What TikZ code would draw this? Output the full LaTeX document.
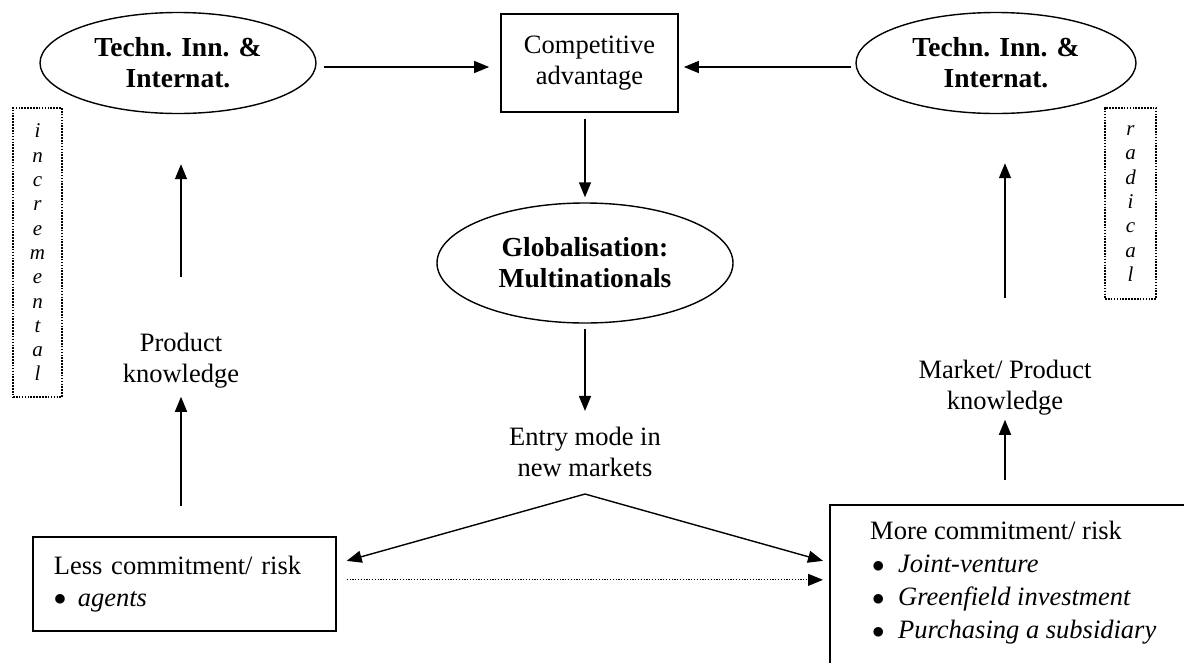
\documentclass[tikz,border=0pt]{standalone}
\usepackage{fontspec}
\setmainfont{Liberation Serif}
\usetikzlibrary{shapes.geometric,arrows.meta}
\newcommand{\bul}{\raisebox{0.5pt}{$\bullet$}}
\begin{document}
\begin{tikzpicture}[x=1pt,y=-1pt,
  every node/.style={font=\fontsize{26.5}{31}\selectfont, inner sep=0pt},
  arr/.style={line width=1.4pt,-{Triangle[length=15pt,width=12pt]}},
  dotarr/.style={line width=1.1pt,dash pattern=on 1.2pt off 1.6pt,-{Triangle[length=15pt,width=12pt]}},
  oval/.style={draw,ellipse,line width=1.4pt,font=\fontsize{27.5}{31}\selectfont\bfseries,align=center},
  box/.style={draw,rectangle,line width=1.7pt},
  vbox/.style={draw,rectangle,line width=1.7pt,dash pattern=on 1.6pt off 1.3pt,font=\fontsize{21}{24.3}\selectfont\itshape,align=center},
  lbl/.style={align=center}]
\useasboundingbox (0,0) rectangle (1184,662);
\clip (0,0) rectangle (1184,662);

% nodes
\node[oval, minimum width=276pt, minimum height=101pt] (techL) at (178,63) {Techn. Inn. \&\\Internat.};
\node[oval, minimum width=280pt, minimum height=101pt] (techR) at (996,63) {Techn. Inn. \&\\Internat.};
\node[box, minimum width=177pt, minimum height=98pt, align=center] (comp) at (589.5,63) {Competitive\\advantage};
\node[oval, minimum width=296pt, minimum height=120pt] (glob) at (585,263) {Globalisation:\\Multinationals};
\node[lbl] (entry) at (585,452) {Entry mode in\\new markets};
\node[lbl] (prod) at (181,361) {Product\\knowledge};
\node[lbl] (mkt) at (1005,388) {Market/ Product\\knowledge};

\node[box, minimum width=303pt, minimum height=94pt, anchor=north west, text width=261pt, align=left,
      font=\fontsize{26.5}{32}\selectfont] (less) at (32,536)
  {Less commitment/ risk\\ \makebox[24pt][l]{\bul}\textit{agents}};

\node[box, minimum width=420pt, minimum height=200pt, anchor=north west] (more) at (829,504) {};
\node[anchor=north west, align=left, font=\fontsize{26.5}{33}\selectfont] (moretext) at (870,521)
  {More commitment/ risk\\
   \hspace*{2pt}\makebox[26pt][l]{\bul}\textit{Joint-venture}\\
   \hspace*{2pt}\makebox[26pt][l]{\bul}\textit{Greenfield investment}\\
   \hspace*{2pt}\makebox[26pt][l]{\bul}\textit{Purchasing a subsidiary}};

\node[vbox, minimum width=49pt, minimum height=289pt] (incr) at (37.5,252.5) {i\\n\\c\\r\\e\\m\\e\\n\\t\\a\\l};
\node[vbox, minimum width=51pt, minimum height=191pt] (radi) at (1130.5,203.5) {r\\a\\d\\i\\c\\a\\l};

% connectors
\draw[arr, shorten <=7pt, shorten >=11pt] ([yshift=-4pt]techL.east) -- ([yshift=-4pt]comp.west);
\draw[arr, shorten <=4pt, shorten >=5pt] ([yshift=-4pt]techR.west) -- ([yshift=-4pt]comp.east);
\draw[arr, shorten <=6pt, shorten >=5pt] (comp.south -| glob.north) -- (glob.north);
\draw[arr, shorten <=5pt, shorten >=16pt] (glob.south) -- (entry.north);
\coordinate (apex) at ([yshift=-17pt]entry.south);
\draw[arr] (apex) -- ([shift={(10,-23)}]less.east);
\draw[arr] (apex) -- ([shift={(-6,-44)}]more.west);
\draw[dotarr] ([shift={(10,-4)}]less.east) -- ([shift={(-6,-25)}]more.west);

\draw[arr, shorten <=56pt, shorten >=50pt] (prod.north) -- (prod.north |- techL.south);
\draw[arr, shorten <=30pt, shorten >=8pt] (less.north -| prod) -- (prod.south);
\draw[arr, shorten <=62pt, shorten >=49pt] (mkt.north) -- (mkt.north |- techR.south);
\draw[arr, shorten <=24pt, shorten >=4pt] (more.north -| mkt) -- (mkt.south);
\end{tikzpicture}
\end{document}
